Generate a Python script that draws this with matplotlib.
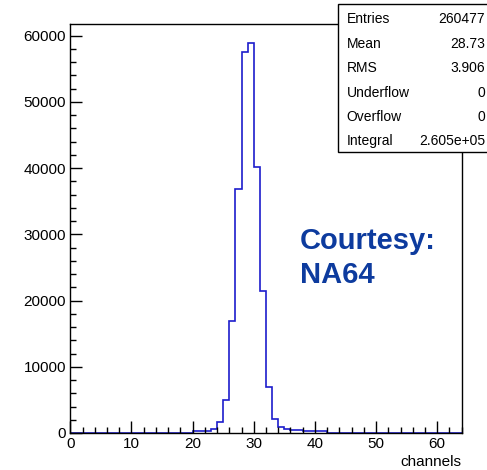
import numpy as np
import matplotlib
matplotlib.use("Agg")
import matplotlib.pyplot as plt
from matplotlib.patches import Rectangle
from matplotlib.ticker import MultipleLocator

plt.rcParams['font.family'] = ['Liberation Sans', 'DejaVu Sans']

# histogram data: 64 bins of width 1 from 0 to 64
bin_edges = list(range(0, 65))
counts = [0] * 20 + [250, 250, 250, 600, 1660, 5000, 16870, 36900, 57500, 58900,
                     40200, 21400, 6900, 2100, 860, 600, 450, 450, 300, 300, 300, 300] + [0] * 22

stat_names = ["Entries", "Mean", "RMS", "Underflow", "Overflow", "Integral"]
stat_values = ["260477", "28.73", "3.906", "0", "0", "2.605e+05"]

W, H = 487, 470
fig = plt.figure(figsize=(W / 100, H / 100), dpi=100)
L, R, B, T = 70.3, 461.7, 433, 24.3
ax = fig.add_axes([L / W, 1 - B / H, (R - L) / W, (B - T) / H])

ax.stairs(counts, bin_edges, color='#1c1ccc', linewidth=1.2)
ax.set_xlim(0, 64)
ax.set_ylim(0, 61720)

ax.xaxis.set_major_locator(MultipleLocator(10))
ax.xaxis.set_minor_locator(MultipleLocator(2))
ax.yaxis.set_major_locator(MultipleLocator(10000))
ax.yaxis.set_minor_locator(MultipleLocator(2000))
ax.tick_params(which='both', direction='in', top=False, right=False, width=1)
ax.tick_params(which='major', length=8.6, labelsize=11, pad=3)
ax.tick_params(which='minor', length=4.3)
for s in ax.spines.values():
    s.set_linewidth(1.0)

fig.text(461 / W, 1 - 466 / H, "channels", ha='right', va='baseline', fontsize=11)

fig.text(300 / W, 1 - 249 / H, "Courtesy:", ha='left', va='baseline', fontsize=21,
         fontweight='bold', color='#0d3b9e')
fig.text(300 / W, 1 - 283 / H, "NA64", ha='left', va='baseline', fontsize=21,
         fontweight='bold', color='#0d3b9e')

# stats box
box = Rectangle((338 / W, 1 - 152 / H), 200 / W, 148 / H, transform=fig.transFigure,
                facecolor='white', edgecolor='black', linewidth=1.0, zorder=10)
fig.patches.append(box)
baselines = [22.7, 47.5, 72.5, 96.7, 120.7, 145]
for name, val, yb in zip(stat_names, stat_values, baselines):
    fig.text(346.7 / W, 1 - yb / H, name, ha='left', va='baseline', fontsize=10, zorder=11)
    fig.text(485 / W, 1 - yb / H, val, ha='right', va='baseline', fontsize=10, zorder=11)

fig.savefig("out.png", dpi=100)
